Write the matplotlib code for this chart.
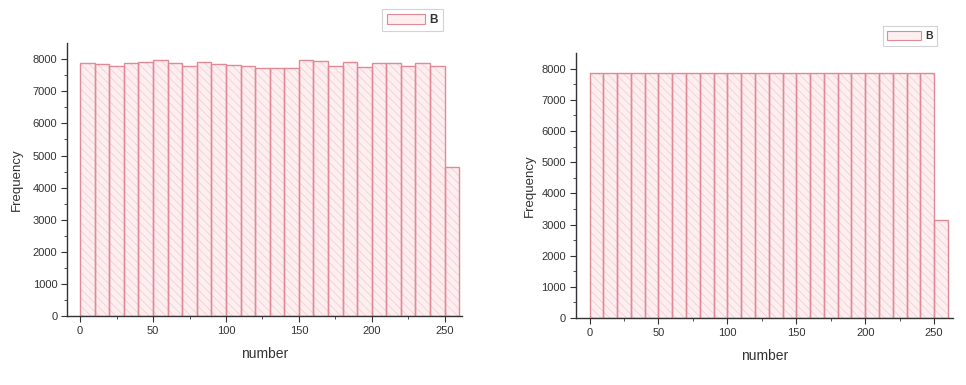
import matplotlib
matplotlib.use("Agg")
import matplotlib.pyplot as plt
from matplotlib.patches import Patch

plt.rcParams['font.family'] = ['Liberation Sans', 'DejaVu Sans']
plt.rcParams['hatch.linewidth'] = 0.5

# Data: bin left edges (width 10) and frequencies
bin_left = [0, 10, 20, 30, 40, 50, 60, 70, 80, 90, 100, 110, 120, 130, 140,
            150, 160, 170, 180, 190, 200, 210, 220, 230, 240, 250]
bin_width = 10
freq_left = [7866, 7845, 7785, 7866, 7918, 7969, 7866, 7794, 7897, 7856,
             7825, 7785, 7722, 7732, 7722, 7979, 7928, 7794, 7907, 7742,
             7866, 7866, 7794, 7876, 7794, 4629]
freq_right = [7870] * 25 + [3130]

x_ticks = [0, 50, 100, 150, 200, 250]
y_ticks = [0, 1000, 2000, 3000, 4000, 5000, 6000, 7000, 8000]

FACE = '#fdeef0'
HATCH = '#f3c9cf'
EDGE = '#e08a97'

fig = plt.figure(figsize=(9.66, 3.85), dpi=100)

def draw(ax, freqs, xlim, ypad):
    ax.bar(bin_left, freqs, width=bin_width, align='edge', color=FACE,
           edgecolor=HATCH, hatch='\\\\\\\\', linewidth=0)
    ax.bar(bin_left, freqs, width=bin_width, align='edge', fill=False,
           edgecolor=EDGE, linewidth=1.0)
    ax.set_xlim(*xlim)
    ax.set_ylim(0, 8500)
    ax.set_xticks(x_ticks)
    ax.set_yticks(y_ticks)
    ax.set_xticks([25, 75, 125, 175, 225], minor=True)
    ax.set_yticks([500, 1500, 2500, 3500, 4500, 5500, 6500, 7500], minor=True)
    for s in ['top', 'right']:
        ax.spines[s].set_visible(False)
    for s in ['left', 'bottom']:
        ax.spines[s].set_color('#333333')
        ax.spines[s].set_linewidth(1.0)
    ax.tick_params(axis='both', which='major', direction='out', length=4,
                   width=0.8, labelsize=8, colors='#333333', pad=3)
    ax.tick_params(axis='both', which='minor', direction='out', length=2,
                   width=0.6, colors='#333333')
    ax.set_xlabel('number', fontsize=10, color='#333333', labelpad=8)
    ax.set_ylabel('Frequency', fontsize=9.5, color='#333333', labelpad=ypad)

ax1 = fig.add_axes([0.0694, 0.179, 0.409, 0.709])
draw(ax1, freq_left, (-9, 262), 7)
ax2 = fig.add_axes([0.596, 0.174, 0.391, 0.688])
draw(ax2, freq_right, (-10, 264), 4)

handle = [Patch(facecolor=FACE, edgecolor=EDGE, linewidth=0.8, label='B')]
for anchor, fs in [((0.427, 0.948), 8.5), ((0.942, 0.906), 7.5)]:
    leg = fig.legend(handles=handle, loc='center', bbox_to_anchor=anchor,
                     fontsize=fs, frameon=True, fancybox=False,
                     handlelength=3.2, handleheight=1.0, handletextpad=0.4,
                     borderpad=0.45, edgecolor='#c8c8c8')
    leg.get_frame().set_linewidth(0.8)
    for t in leg.get_texts():
        t.set_fontweight('bold')
        t.set_color('#333333')

fig.savefig('out.png', dpi=100)
